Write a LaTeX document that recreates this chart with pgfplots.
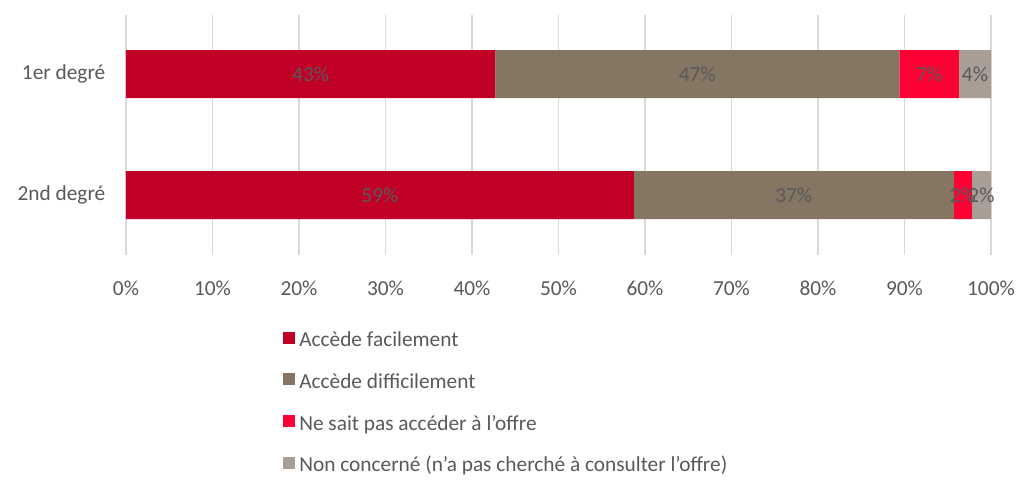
\documentclass[border=0pt]{standalone}
\usepackage{pgfplots}
\pgfplotsset{compat=1.18}
\usepackage{pgfplotstable}
\usepackage{fontspec}
\setmainfont{Carlito}
\definecolor{cA}{HTML}{C00027}
\definecolor{cB}{HTML}{857663}
\definecolor{cC}{HTML}{FF0035}
\definecolor{cD}{HTML}{A89E95}
\definecolor{txt}{HTML}{595959}
\definecolor{gridc}{HTML}{D9D9D9}
\newcommand{\fs}{\fontsize{16}{19}\selectfont}

\pgfplotstableread{
y x lab
0 42.7 43\%
1 58.7 59\%
}\facile
\pgfplotstableread{
y x lab
0 46.7 47\%
1 37.0 37\%
}\difficile
\pgfplotstableread{
y x lab
0 6.9 7\%
1 2.1 2\%
}\nesait
\pgfplotstableread{
y x lab
0 3.7 4\%
1 2.2 2\%
}\nonconc

\begin{document}
\begin{tikzpicture}
\path[use as bounding box] (0,0) rectangle (766.5pt,359.25pt);
\begin{axis}[
  at={(94.5pt,168pt)}, anchor=south west,
  scale only axis, width=648.75pt, height=180pt,
  xbar stacked, bar width=36pt,
  xmin=0, xmax=100,
  ymin=-0.488, ymax=1.496, y dir=reverse,
  ytick={0,1}, yticklabels={1er degré,2nd degré},
  xtick={0,10,...,100},
  xticklabel={\pgfmathprintnumber{\tick}\%},
  /pgf/number format/assume math mode=true,
  axis line style={draw=none},
  major tick length=0pt,
  xmajorgrids, grid style={gridc, line width=0.8pt},
  tick label style={font=\fs, text=txt},
  xticklabel style={yshift=-16pt},
  yticklabel style={xshift=-12pt},
  point meta=explicit symbolic,
  nodes near coords,
  every node near coord/.append style={anchor=center, font=\fs, text=txt},
  legend cell align=left,
  legend image code/.code={\fill[#1,draw=none] (0pt,-2.5pt) rectangle (9pt,6.5pt);},
  legend style={at={(0.1815,-0.3125)}, anchor=north west, draw=none, fill=none,
    font=\fs, text=txt, row sep=16.4pt, inner sep=0pt,
    nodes={inner sep=0pt, text height=12pt, text depth=3pt},
    /tikz/every odd column/.append style={column sep=3pt}},
]
\addplot[fill=cA, draw=none] table[x=x, y=y, meta=lab] {\facile};
\addplot[fill=cB, draw=none] table[x=x, y=y, meta=lab] {\difficile};
\addplot[fill=cC, draw=none] table[x=x, y=y, meta=lab] {\nesait};
\addplot[fill=cD, draw=none] table[x=x, y=y, meta=lab] {\nonconc};
\legend{Accède facilement, Accède difficilement, Ne sait pas accéder à l'offre, Non concerné (n'a pas cherché à consulter l'offre)}
\end{axis}
\end{tikzpicture}
\end{document}
